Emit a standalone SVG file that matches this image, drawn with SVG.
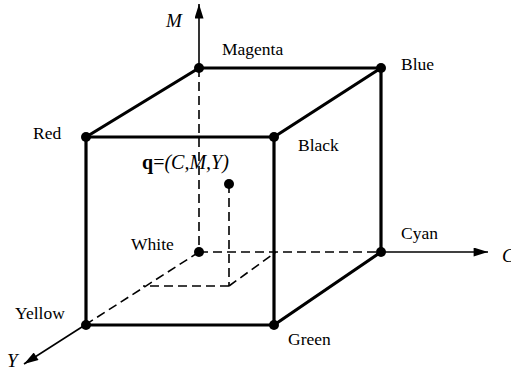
<svg xmlns="http://www.w3.org/2000/svg" width="511" height="373" viewBox="0 0 511 373">
<style>
.edge{stroke:#000;stroke-width:3.2;fill:none;stroke-linecap:round}
.hid{stroke:#000;stroke-width:1.6;fill:none;stroke-dasharray:9 5}
.axis{stroke:#000;stroke-width:1.6;fill:none}
.dot{fill:#000}
.lbl{font-family:"Liberation Serif","Times New Roman",serif;font-size:17.5px;fill:#000}
.ax{font-family:"Liberation Serif","Times New Roman",serif;font-size:19px;font-style:italic;fill:#000}
</style>
<defs>
<marker id="arr" viewBox="0 0 16 10" refX="16" refY="5" markerUnits="userSpaceOnUse" markerWidth="17" markerHeight="9" orient="auto">
<path d="M0,0 L16,5 L0,10 z" fill="#000"/>
</marker>
</defs>
<rect width="511" height="373" fill="#fff"/>
<g id="connectors">
<line class="axis" x1="199" y1="68" x2="199" y2="4" marker-end="url(#arr)"/>
<line class="axis" x1="382" y1="252" x2="488" y2="252" marker-end="url(#arr)"/>
<line class="axis" x1="85" y1="325" x2="24" y2="364" marker-end="url(#arr)"/>
<line class="hid" x1="199" y1="68" x2="199" y2="252"/>
<line class="hid" x1="199" y1="252" x2="382" y2="252"/>
<line class="hid" x1="199" y1="252" x2="85" y2="325"/>
<line class="hid" x1="229" y1="184" x2="229" y2="286" stroke-dasharray="14 5 9 5"/>
<line class="hid" x1="229" y1="286" x2="143" y2="286"/>
<line class="hid" x1="229" y1="286" x2="276" y2="252"/>
<line class="edge" x1="86" y1="137" x2="199" y2="68"/>
<line class="edge" x1="199" y1="68" x2="381" y2="68"/>
<line class="edge" x1="381" y1="68" x2="274" y2="137"/>
<line class="edge" x1="86" y1="137" x2="274" y2="137"/>
<line class="edge" x1="86" y1="137" x2="86" y2="325"/>
<line class="edge" x1="274" y1="137" x2="274" y2="325"/>
<line class="edge" x1="86" y1="325" x2="274" y2="325"/>
<line class="edge" x1="381" y1="68" x2="381" y2="252"/>
<line class="edge" x1="381" y1="252" x2="274" y2="325"/>
</g>
<g id="axis-M"><text class="ax" x="166" y="27">M</text></g>
<g id="axis-C"><text class="ax" x="502" y="262">C</text></g>
<g id="axis-Y"><text class="ax" x="7" y="367">Y</text></g>
<g id="magenta"><circle class="dot" cx="199" cy="68" r="5"/><text class="lbl" x="222" y="55">Magenta</text></g>
<g id="blue"><circle class="dot" cx="381" cy="68" r="5"/><text class="lbl" x="401" y="70">Blue</text></g>
<g id="red"><circle class="dot" cx="86" cy="137" r="5"/><text class="lbl" x="33" y="139">Red</text></g>
<g id="black"><circle class="dot" cx="274" cy="137" r="5"/><text class="lbl" x="298" y="151">Black</text></g>
<g id="white"><circle class="dot" cx="199" cy="252" r="5"/><text class="lbl" x="131" y="250">White</text></g>
<g id="cyan"><circle class="dot" cx="381" cy="252" r="5"/><text class="lbl" x="401" y="239">Cyan</text></g>
<g id="yellow"><circle class="dot" cx="86" cy="325" r="5"/><text class="lbl" x="15" y="319">Yellow</text></g>
<g id="green"><circle class="dot" cx="274" cy="325" r="5"/><text class="lbl" x="288" y="345">Green</text></g>
<g id="q"><circle class="dot" cx="229" cy="184" r="5"/><text x="142" y="169" font-family="'Liberation Serif','Times New Roman',serif" font-size="20"><tspan font-weight="bold">q</tspan><tspan>=</tspan><tspan font-style="italic">(C,M,Y)</tspan></text></g>
</svg>
